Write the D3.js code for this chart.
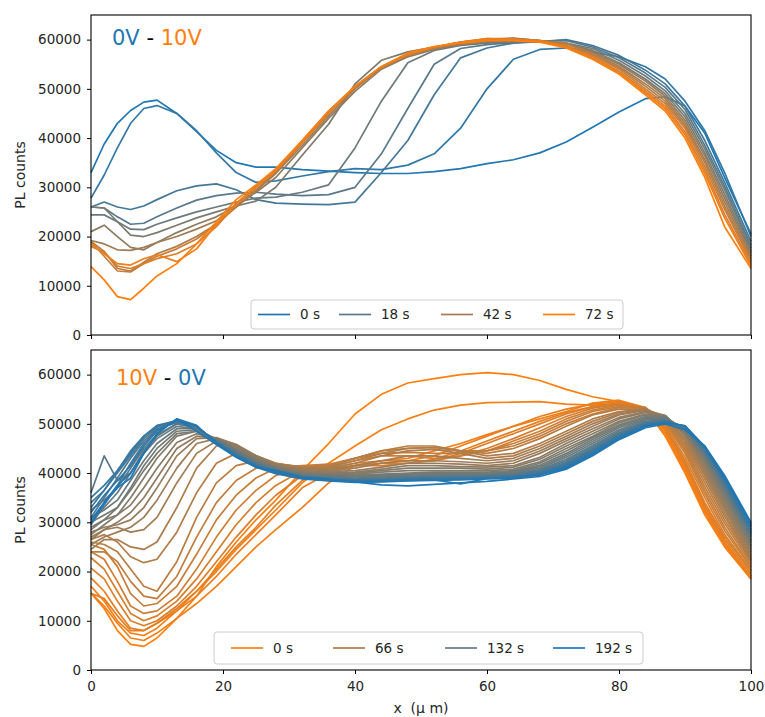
<!DOCTYPE html>
<html>
<head>
<meta charset="utf-8">
<script src="https://cdn.jsdelivr.net/npm/d3@7"></script>
<style>
  body { margin: 0; background: #fff; }
  text { font-family: "DejaVu Sans", sans-serif; }
</style>
</head>
<body>
<svg id="chart" width="765" height="717"></svg>
<script>
// Sample positions along the channel (µm)
const positionsUm = [0,2,4,6,8,10,13,16,19,22,25,28,32,36,40,44,48,52,56,60,64,68,72,76,80,84,87,90,93,96,100];

// Switching 0V -> 10V: one profile every 6 s, PL counts in thousands
const topTimes = [0,6,12,18,24,30,36,42,48,54,60,66,72];
const topLegendTimes = [0,18,42,72];
const topProfilesK = [
  [33,38.8,43,45.6,47.3,47.7,45,41.3,37.5,35,34.1,34.1,33.6,33.3,33,32.8,32.8,33.2,33.8,34.8,35.6,37,39.2,42.2,45.3,48,48.4,46.5,41,32,20.5],
  [27.8,32.5,38,43,46,46.6,45,41.5,37,33,31,31.3,32.3,33.2,33.8,33.6,34.5,36.8,42,50,56,58,58.3,57.5,56.5,54.5,52,47.5,41.5,33,20],
  [26,27,26,25.5,26.2,27.5,29.3,30.3,30.7,29.5,27.5,26.8,26.6,26.5,27,33,39.5,48.8,56.3,58.3,59.3,59.6,60,58.8,56.8,53.8,51,46.5,39.5,31,19],
  [26,25.8,24,22.5,22.7,24,25.8,27.4,28.3,28.8,29,28.6,28.3,28.5,30,36.8,46,55,58.2,59,59.4,59.7,59.8,58.5,56.3,53.2,50.3,45.8,38.5,30.2,18.2],
  [24.4,24.4,23,21.5,21.4,22.5,23.8,25,26,27,27.8,28,29,30.5,38,47.5,55.3,57.8,58.8,59.3,59.5,59.6,59.3,58.2,55.8,52.6,49.6,45,37.8,29.5,17.6],
  [26,25.8,23,20.3,20,20.8,22.3,23.8,25,26.2,27.2,30,36.5,42.8,51,55.8,57.5,58.5,59,59.5,59.7,59.6,59.2,57.8,55.3,52,49,44.3,37,28.6,17],
  [21,22.3,20,17.8,17.3,18.8,20.8,22.5,24,26.2,29,32,38,44,49.5,54,56.5,58,59,59.6,59.9,59.7,59.2,57.5,55,51.6,48.5,43.6,36.4,27.8,16.6],
  [19.2,18.5,17.3,17.2,17.8,18.8,20,21.5,23.2,26,29.3,32.8,38.5,44.5,50,54.3,56.8,58.2,59.2,60,60.3,59.8,59.3,57.3,54.6,51,48,43,35.6,27,16],
  [19,17,13.5,13,14.8,16.5,18,20,22.5,26,29.5,33,39,45,50.3,54.5,57,58.3,59.3,60,60.2,59.8,59.2,57,54.3,50.5,47.5,42.5,35,26.2,15.5],
  [19,16,13,12.8,14.5,16,17.5,19.5,22.5,26.5,30,33.3,39.3,45.3,50.5,54.5,57,58.5,59.5,60.2,60.2,59.8,58.8,56.8,54,50,47,42,34.2,25.5,15],
  [18,16.8,14,13.5,14.5,15.5,16.5,18.5,22,26.5,30,33.5,39.5,45.5,50.5,54.5,57,58.5,59.5,60,60,59.8,58.6,56.5,53.6,49.6,46.5,41.3,33.5,24.5,14.5],
  [18.5,16.5,14.5,14.2,15.5,16.3,14.9,17.5,22.5,26.8,30.2,33.5,39.2,45.2,50.5,54.5,57,58.5,59.5,60.2,60,59.6,58.5,56.2,53.3,49.2,46,40.7,32.8,23.8,14],
  [13.9,11.2,7.8,7.2,9.5,12,14.5,18.5,23,27.5,30.5,33.8,39.5,45.5,50.5,54.5,57.3,58.6,59.3,59.8,59.8,59.5,58.3,56,53,48.8,45.5,40,32,22,13.5]
];

// Switching 10V -> 0V: one profile every 6 s, PL counts in thousands
const bottomTimes = [0,6,12,18,24,30,36,42,48,54,60,66,72,78,84,90,96,102,108,114,120,126,132,138,144,150,156,162,168,174,180,186,192];
const bottomLegendTimes = [0,66,132,192];
const bottomProfilesK = [
  [15.6,12.5,8,5.2,4.8,6.5,10.5,15,21,26,30.5,34.5,40.5,46,52,56,58.3,59.2,60,60.4,60,58.8,57,55.5,54.5,53,47.5,40,31.5,25,18.5],
  [17,14,10,7.5,7,8.5,12,16,20,24.5,28.5,32.5,38,42,45.5,48.8,51,52.8,53.8,54.3,54.4,54.5,54,53.8,54,53,48,40.5,32,25.5,19],
  [15.6,13,9.5,6.5,6,7.5,10.5,13.5,17,21,25,28.5,33,38,41.5,42.5,43,44.5,46,47.8,49.5,51,52.5,54.2,54.8,53.3,48.5,41,32.5,25.5,18.5],
  [18.7,16,12,8.5,8,9.5,12,15,19,23.5,27.5,31.5,37,40,41.5,42,42.5,43.5,45.5,47.5,49.5,51.5,53,54,54.5,53.2,48.8,41.5,33,26,19],
  [15.6,14.5,11,8,8,9.5,12.5,16,20.5,25,29,33.5,38.5,40.5,41.5,41.5,42,42.8,44.5,46.5,48.5,50.5,52.3,53.5,54.3,53.3,49.2,42,33.5,26.5,19.5],
  [20.7,18.5,14,10,9,10,13,17,22,27,31.5,35.5,39.5,40.8,41.5,42,42,42.5,44,46,48,50,52,53.5,54,53.2,49.5,42.5,34,27,20],
  [22.8,20.5,16,11.5,10,11,14,18.5,24,29.5,34,37.5,40.5,41,42,42.5,42.5,42.5,43.5,45,47,49.2,51.5,53.2,54,53.2,49.8,43.2,35,27.5,20.3],
  [24,22.5,18,13,11.5,12,15,20.5,27,32.5,36.5,39.5,41,41.3,42.5,43.5,43.5,43,43.5,44.5,46.5,48.5,51,52.8,53.8,53.3,50.2,44,35.8,28.3,20.8],
  [25.5,24.5,21,15.5,13,13.5,17,23.5,30.5,35.5,39,41,41.5,41.8,43,44,44.2,44,44,44.5,46,48,50.5,52.5,53.5,53.2,50.5,44.5,36.5,29,21],
  [24,24,22,18,15,14.5,19,27,34,38.5,41,41.8,41.3,41.5,43,44.5,45,45.2,44.5,44.5,45.5,47.5,50,52,53.3,53.2,50.8,45,37.2,29.8,21.5],
  [26,25.5,24,20.5,17,16,22,31,38,41.5,42.5,42,41.2,41.5,43,44.5,45.5,45.5,44.5,44,45,47,49.5,51.8,53,53,51,45.5,38,30.5,22],
  [26.5,27.5,26,23,21.8,22.5,28,36,42,44,43.5,42,41,41.2,42.5,44,45,45.2,44.5,43.5,44,46,48.5,51,52.5,53,51.3,46,38.8,31.2,22.3],
  [24.5,26.5,26.5,25,24.5,26,33,41,45.5,45.5,43.5,42,41,41,42,43.5,44.5,44.8,44,43,43.5,45.5,48,50.5,52.3,52.9,51.5,46.5,39.5,31.8,22.5],
  [27,28.5,29,28,28.5,31,38,44,46.5,45.5,43.5,41.8,40.8,40.8,41.5,42.5,43.5,43.5,43,42.5,43,45,47.5,50,52,52.8,51.5,47,40,32.5,23],
  [25.5,27,28,29,31,34.5,41,46,47,45.8,43.5,41.8,40.8,40.5,41,42,42.5,42.5,42.3,42,42.5,44.5,47,49.5,51.8,52.8,51.7,47.5,40.5,33,23.5],
  [28,29,29.5,30.5,33,37,43.5,47,47.2,45.8,43.5,41.8,40.5,40.3,40.5,41.2,42,42,41.8,41.5,42,44,46.5,49,51.3,52.5,51.7,47.8,41,33.5,24],
  [26.5,28.5,30,32,35,39,45,47.5,47,45.5,43.2,41.5,40.3,40,40.2,40.8,41.5,41.5,41.3,41.2,41.5,43.2,46,48.5,51,52.3,51.6,48,41.5,34,24.5],
  [29,30.5,31.5,33.5,37,41,46.2,48,47,45.3,43,41.3,40.2,40,40,40.5,41,41,41,40.8,41.2,42.8,45.5,48,50.5,52,51.6,48.2,42,34.5,25],
  [27.5,29.5,31.5,35,39,43,47.5,48.5,47,45,42.8,41.2,40,39.8,39.8,40.2,40.5,40.5,40.5,40.5,40.8,42.3,45,47.5,50.2,51.8,51.5,48.4,42.5,35,25.3],
  [30,31.5,33,36.5,40.5,44,48,48.5,46.8,44.8,42.7,41,39.8,39.6,39.6,39.8,40,40.2,40.2,40.2,40.5,42,44.5,47.2,49.8,51.5,51.4,48.6,42.8,35.5,25.8],
  [28.5,30.5,33,37,41.5,45,48.5,48.8,46.8,44.6,42.5,41,39.7,39.5,39.4,39.6,39.8,40,40,40,40.3,41.6,44,46.8,49.5,51.3,51.3,48.8,43.2,36,26.2],
  [31,32.5,34.5,38.5,42.5,46,49,49,46.8,44.5,42.3,40.8,39.6,39.4,39.2,39.4,39.6,39.7,39.7,39.8,40.1,41.3,43.6,46.4,49.2,51,51.2,49,43.5,36.5,26.5],
  [30,33,36,40,44,47,49.5,49,46.6,44.3,42.2,40.7,39.5,39.2,39,39.2,39.4,39.5,39.5,39.6,39.9,41,43.2,46,48.8,50.8,51,49.1,43.8,36.8,27],
  [32.5,34.5,37,41,45,47.8,50,49.2,46.5,44.2,42,40.6,39.4,39.1,38.9,39,39.2,39.3,39.4,39.5,39.7,40.7,42.8,45.6,48.5,50.5,50.8,49.2,44,37.2,27.3],
  [36,43.5,38.5,40,44.5,47.5,50,49.3,46.5,44,41.9,40.5,39.3,39,38.8,38.9,39.1,39.2,39.3,39.4,39.6,40.5,42.5,45.3,48.2,50.3,50.7,49.3,44.2,37.5,27.5],
  [31,35,39,43,46.5,49,50.3,49.3,46.4,43.9,41.8,40.4,39.2,38.9,38.7,38.8,39,39.1,39.2,39.3,39.5,40.3,42.2,45,48,50.2,50.6,49.4,44.5,37.8,27.8],
  [34,36.5,40,43.5,47,49.3,50.5,49.4,46.3,43.8,41.7,40.3,39.2,38.8,38.6,38.7,38.9,39,39.1,39.2,39.4,40.2,42,44.8,47.8,50,50.5,49.4,44.7,38,28],
  [29.5,33.5,37.5,42,46,48.8,50.4,49.4,46.3,43.7,41.6,40.2,39.1,38.7,38.5,38.6,38.8,38.9,39,39.1,39.3,40,41.8,44.6,47.6,49.9,50.4,49.5,44.9,38.3,28.3],
  [33,36.5,40.5,44.5,47.5,49.7,50.6,49.5,46.2,43.6,41.5,40.1,39,38.6,38.4,38.5,38.7,38.8,38.9,39,39.2,39.9,41.6,44.4,47.5,49.8,50.4,49.5,45,38.5,28.6],
  [35,37.5,40.5,44,47.5,49.5,50.7,49.5,46.2,43.5,41.4,40,39,38.6,38.3,38.4,38.6,38.7,38.8,39,39.1,39.8,41.4,44.2,47.3,49.7,50.3,49.5,45.2,38.8,29],
  [32,35.5,38.5,41.5,45.5,48.5,50.8,49.6,46.1,43.4,41.3,40,38.9,38.5,38.2,38.3,38.5,38.6,37.8,38.9,39,39.7,41.2,44,47.1,49.6,50.3,49.6,45.3,39,29.3],
  [30.5,34,37.5,40,44,48,51,49.7,46,43.3,41.2,39.9,38.8,38.4,38.1,38.2,38.4,38.5,38.6,38.8,39,39.6,41,43.8,47,49.5,50.2,49.6,45.4,39.2,29.6],
  [29.9,34,37,39,44,48,51,48.5,45.8,43.2,41.2,40.5,39.2,38.8,38.2,37.6,37.4,37.7,38,38.3,38.8,39.3,40.8,43.5,46.8,49.2,50,48.8,45.5,39.5,30]
];

const xTicks = [0,20,40,60,80,100];
const yTicks = [0,10000,20000,30000,40000,50000,60000];

const BLUE = "#1f77b4", ORANGE = "#ff7f0e";
const svg = d3.select("#chart");
const x = d3.scaleLinear().domain([0, 100]).range([91, 751]);

const panels = [
  {
    top: 15, bottom: 335, profiles: topProfilesK, times: topTimes, legendTimes: topLegendTimes,
    from: BLUE, to: ORANGE, xLabels: false,
    title: [["0V", BLUE], [" - ", "#000"], ["10V", ORANGE]], titleX: 112, titleY: 45,
    legend: { x: 251, y: 300, w: 372, h: 29, handles: [258, 339, 441, 543] }
  },
  {
    top: 350, bottom: 670, profiles: bottomProfilesK, times: bottomTimes, legendTimes: bottomLegendTimes,
    from: ORANGE, to: BLUE, xLabels: true,
    title: [["10V", ORANGE], [" - ", "#000"], ["0V", BLUE]], titleX: 116, titleY: 385,
    legend: { x: 214, y: 632, w: 429, h: 32, handles: [231, 333, 445, 553] }
  }
];

panels.forEach(p => {
  const y = d3.scaleLinear().domain([0, 65000]).range([p.bottom, p.top]);
  const tMax = p.times[p.times.length - 1];
  const color = t => d3.interpolateRgb(p.from, p.to)(t / tMax);
  const line = d3.line()
    .x((d, i) => x(positionsUm[i]))
    .y(d => y(d * 1000));

  const g = svg.append("g");

  // one profile per time step, later steps drawn on top
  g.selectAll("path.profile")
    .data(p.profiles)
    .join("path")
    .attr("class", "profile")
    .attr("d", line)
    .attr("fill", "none")
    .attr("stroke", (d, i) => color(p.times[i]))
    .attr("stroke-width", 1.7)
    .attr("stroke-linejoin", "round");

  // axes
  const yAxis = d3.axisLeft(y).tickValues(yTicks).tickSize(4).tickPadding(6).tickFormat(d3.format("d"));
  const ya = g.append("g").attr("transform", `translate(${x(0)},0)`).call(yAxis);
  const xAxis = d3.axisBottom(x).tickValues(xTicks).tickSize(4).tickPadding(7)
    .tickFormat(p.xLabels ? d3.format("d") : () => "");
  const xa = g.append("g").attr("transform", `translate(0,${p.bottom})`).call(xAxis);
  [ya, xa].forEach(a => {
    a.attr("font-family", null).attr("font-size", null);
    a.select(".domain").remove();
    a.selectAll(".tick line").attr("stroke", "#000").attr("stroke-width", 1);
    a.selectAll(".tick text").attr("fill", "#262626").style("font-size", "13.5px");
  });

  // frame
  g.append("rect")
    .attr("x", x(0)).attr("y", p.top)
    .attr("width", x(100) - x(0)).attr("height", p.bottom - p.top)
    .attr("fill", "none").attr("stroke", "#000").attr("stroke-width", 1.1);

  // y label
  g.append("text")
    .attr("transform", `translate(24.5,${(p.top + p.bottom) / 2}) rotate(-90)`)
    .attr("text-anchor", "middle")
    .attr("fill", "#262626")
    .style("font-size", "14px")
    .text("PL counts");

  // voltage step title
  const title = g.append("text")
    .attr("x", p.titleX).attr("y", p.titleY)
    .style("font-size", "21px")
    .style("white-space", "pre");
  p.title.forEach(([s, c]) => title.append("tspan").attr("fill", c).text(s));

  // legend
  const L = p.legend;
  const lg = g.append("g");
  lg.append("rect")
    .attr("x", L.x).attr("y", L.y).attr("width", L.w).attr("height", L.h)
    .attr("rx", 3)
    .attr("fill", "#fff").attr("fill-opacity", 0.8)
    .attr("stroke", "#cccccc").attr("stroke-width", 1);
  p.legendTimes.forEach((t, k) => {
    const hx = L.handles[k], cy = L.y + L.h / 2;
    lg.append("line")
      .attr("x1", hx).attr("x2", hx + 32).attr("y1", cy).attr("y2", cy)
      .attr("stroke", color(t)).attr("stroke-width", 1.7);
    lg.append("text")
      .attr("x", hx + 42).attr("y", cy).attr("dy", "0.36em")
      .attr("fill", "#262626")
      .style("font-size", "13.5px")
      .text(`${t} s`);
  });
});

// shared x label
svg.append("text")
  .attr("x", x(50)).attr("y", 713)
  .attr("text-anchor", "middle")
  .attr("fill", "#262626")
  .style("font-size", "14px")
  .style("white-space", "pre")
  .text("x  (\u03bc m)");
</script>
</body>
</html>
